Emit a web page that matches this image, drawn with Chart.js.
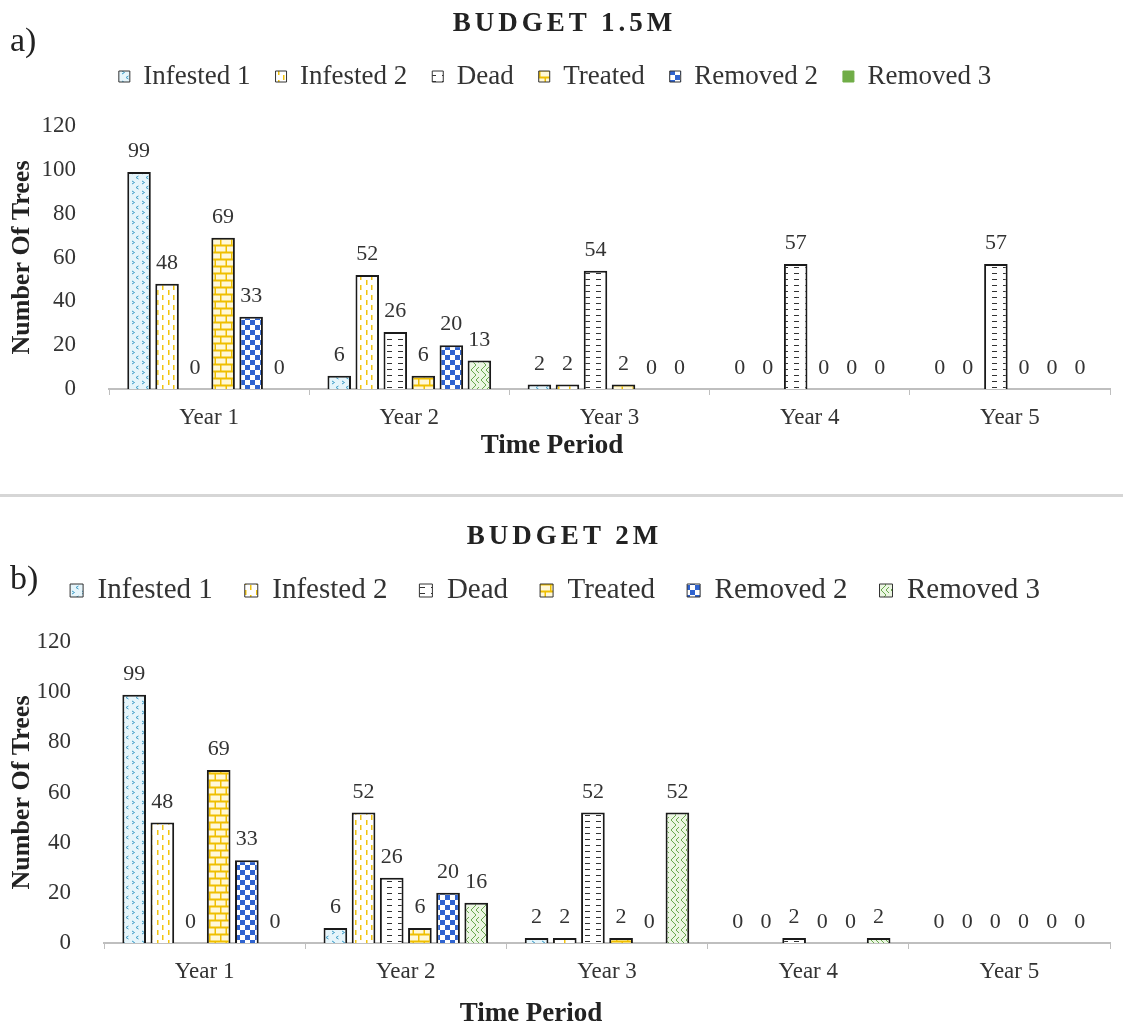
<!DOCTYPE html>
<html lang="en">
<head>
  <meta charset="UTF-8">
  <title>Budget 1.5M / 2M</title>
  <script src="https://cdn.jsdelivr.net/npm/chart.js"></script>
  <style>
    body { margin: 0; background: #fff; font-family: 'Liberation Serif', serif; }
    #page { position: relative; width: 1123px; height: 1026px; }
    .tag { position: absolute; left: 10px; font-size: 34px; line-height: 38px; color: #222; }
    .ttl { position: absolute; left: 3px; width: 1123px; text-align: center; font-weight: bold;
           font-size: 27px; line-height: 30px; letter-spacing: 4px; color: #222; }
    .xttl { position: absolute; width: 300px; text-align: center; font-weight: bold;
            font-size: 27px; line-height: 30px; color: #222; }
    .sep { position: absolute; left: 0; width: 1123px; height: 3px; background: #d6d6d6; }
    canvas { position: absolute; left: 0; }
  </style>
</head>
<body>
<div id="page">
  <canvas id="chartA" width="1123" height="470" style="top:0"></canvas>
  <div class="tag" style="top:21px">a)</div>
  <div class="ttl" style="top:7px">BUDGET 1.5M</div>
  <div class="xttl" style="left:402px;top:429px">Time Period</div>

  <div class="sep" style="top:494px"></div>

  <canvas id="chartB" width="1123" height="526" style="top:500px"></canvas>
  <div class="tag" style="top:559px">b)</div>
  <div class="ttl" style="top:520px">BUDGET 2M</div>
  <div class="xttl" style="left:381px;top:997px">Time Period</div>
</div>

<script>
  const years = ["Year 1", "Year 2", "Year 3", "Year 4", "Year 5"];
  const seriesNames = ["Infested 1", "Infested 2", "Dead", "Treated", "Removed 2", "Removed 3"];

  // budget 1.5M
  const a_infested1 = [99, 6, 2, 0, 0];
  const a_infested2 = [48, 52, 2, 0, 0];
  const a_dead      = [0, 26, 54, 57, 57];
  const a_treated   = [69, 6, 2, 0, 0];
  const a_removed2  = [33, 20, 0, 0, 0];
  const a_removed3  = [0, 13, 0, 0, 0];

  // budget 2M
  const b_infested1 = [99, 6, 2, 0, 0];
  const b_infested2 = [48, 52, 2, 0, 0];
  const b_dead      = [0, 26, 52, 2, 0];
  const b_treated   = [69, 6, 2, 0, 0];
  const b_removed2  = [33, 20, 0, 0, 0];
  const b_removed3  = [0, 16, 52, 2, 0];

  const FONT = "'Liberation Serif', 'Times New Roman', serif";

  function makePattern(w, h, draw) {
    const c = document.createElement("canvas");
    c.width = w; c.height = h;
    const g = c.getContext("2d");
    draw(g);
    return g.createPattern(c, "repeat");
  }

  // hatch fills, roughly like the excel ones
  const patInf1 = makePattern(10, 10, g => {
    g.fillStyle = "#e6f5fb"; g.fillRect(0, 0, 10, 10);
    g.strokeStyle = "#3f9ec8"; g.lineWidth = 1;
    g.beginPath();
    g.moveTo(2, 1); g.lineTo(4.5, 2.5); g.lineTo(2, 4);
    g.moveTo(8.5, 6); g.lineTo(6, 7.5); g.lineTo(8.5, 9);
    g.stroke();
  });
  const patInf2 = makePattern(11, 10, g => {
    g.fillStyle = "#fff"; g.fillRect(0, 0, 11, 10);
    g.fillStyle = "#f2c40f";
    g.fillRect(3, 0, 1.5, 5);
    g.fillRect(8, 5, 1.5, 5);
  });
  const patDead = makePattern(11, 6, g => {
    g.fillStyle = "#fff"; g.fillRect(0, 0, 11, 6);
    g.fillStyle = "#333";
    g.fillRect(2, 3, 5, 1);
  });
  const patTreated = makePattern(22, 14, g => {
    g.fillStyle = "#efbf00"; g.fillRect(0, 0, 22, 14);
    g.fillStyle = "#fff8d8";
    g.fillRect(1.5, 1.5, 9.5, 5);
    g.fillRect(12.5, 1.5, 9.5, 5);
    g.fillRect(-4, 8.5, 9.5, 5);
    g.fillRect(7, 8.5, 9.5, 5);
    g.fillRect(18, 8.5, 9.5, 5);
  });
  const patRem2 = makePattern(10, 10, g => {
    g.fillStyle = "#fff"; g.fillRect(0, 0, 10, 10);
    g.fillStyle = "#2f63cf";
    g.fillRect(0, 0, 5, 5);
    g.fillRect(5, 5, 5, 5);
  });
  const patRem3 = makePattern(10, 10, g => {
    g.fillStyle = "#ebf6e2"; g.fillRect(0, 0, 10, 10);
    g.strokeStyle = "#6aa84f"; g.lineWidth = 1;
    g.beginPath();
    g.moveTo(1, 0); g.lineTo(6, 5); g.lineTo(1, 10);
    g.moveTo(6, 0); g.lineTo(9, 3);
    g.moveTo(9, 7); g.lineTo(6, 10);
    g.stroke();
  });
  const fills = [patInf1, patInf2, patDead, patTreated, patRem2, patRem3];

  // numbers above every bar, zeros too
  const valueLabels = {
    id: "valueLabels",
    afterDatasetsDraw(chart, args, opts) {
      const ctx = chart.ctx;
      ctx.save();
      ctx.font = opts.size + "px " + FONT;
      ctx.fillStyle = "#333";
      ctx.textAlign = "center";
      ctx.textBaseline = "alphabetic";
      chart.data.datasets.forEach((ds, i) => {
        chart.getDatasetMeta(i).data.forEach((bar, j) => {
          ctx.fillText(String(ds.data[j]), bar.x, bar.y - opts.gap);
        });
      });
      ctx.restore();
    }
  };

  function buildChart(id, values, cfg) {
    const legendFix = {
      id: "legendFix",
      afterInit(chart) {
        const lg = chart.legend;
        const fit = lg.fit;
        lg.fit = function () { fit.call(this); this.height = cfg.legendH; };
      }
    };

    return new Chart(document.getElementById(id), {
      type: "bar",
      data: {
        labels: years,
        datasets: seriesNames.map((name, i) => ({
          label: name,
          data: values[i],
          backgroundColor: fills[i],
          borderColor: "#1a1a1a",
          borderWidth: 2,
          categoryPercentage: 0.84,
          barPercentage: 0.84
        }))
      },
      options: {
        responsive: false,
        animation: false,
        layout: { padding: { top: cfg.padTop, left: 0, right: 13, bottom: 0 } },
        plugins: {
          tooltip: { enabled: false },
          valueLabels: { size: 22, gap: 15 },
          legend: {
            position: "top",
            labels: {
              font: { family: FONT, size: cfg.legendSize },
              color: "#333",
              boxWidth: cfg.box,
              boxHeight: cfg.box,
              padding: cfg.legendPad,
              generateLabels(chart) {
                const items = Chart.defaults.plugins.legend.labels.generateLabels(chart);
                items.forEach(it => { it.lineWidth = 1; it.strokeStyle = "#333"; });
                if (cfg.solidLast) {
                  const last = items[items.length - 1];
                  last.fillStyle = "#70ad47";
                  last.strokeStyle = "#70ad47";
                }
                return items;
              }
            }
          }
        },
        scales: {
          x: {
            offset: true,
            grid: { display: true, drawOnChartArea: false, drawTicks: true, tickLength: 6, color: "#bfbfbf", lineWidth: 1 },
            border: { color: "#bfbfbf", width: 2 },
            ticks: { font: { family: FONT, size: 23 }, color: "#333", padding: 9 },
            afterFit(s) { s.height = cfg.xH; }
          },
          y: {
            min: 0, max: 120,
            grid: { display: false },
            border: { display: false },
            ticks: { stepSize: 20, font: { family: FONT, size: 23 }, color: "#333", padding: 25 },
            title: {
              display: true, text: "Number Of Trees", color: "#222",
              font: { family: FONT, size: 26, weight: "bold" },
              padding: { top: 7, bottom: 0 }
            },
            afterFit(s) { s.width = cfg.yW; }
          }
        }
      },
      plugins: [valueLabels, legendFix]
    });
  }

  buildChart("chartA",
    [a_infested1, a_infested2, a_dead, a_treated, a_removed2, a_removed3],
    { padTop: 38, legendH: 88, legendPad: 25, yW: 109, xH: 81,
      legendSize: 27, box: 11, solidLast: true });

  buildChart("chartB",
    [b_infested1, b_infested2, b_dead, b_treated, b_removed2, b_removed3],
    { padTop: 44, legendH: 98, legendPad: 32, yW: 104, xH: 83,
      legendSize: 29, box: 13, solidLast: false });
</script>
</body>
</html>
